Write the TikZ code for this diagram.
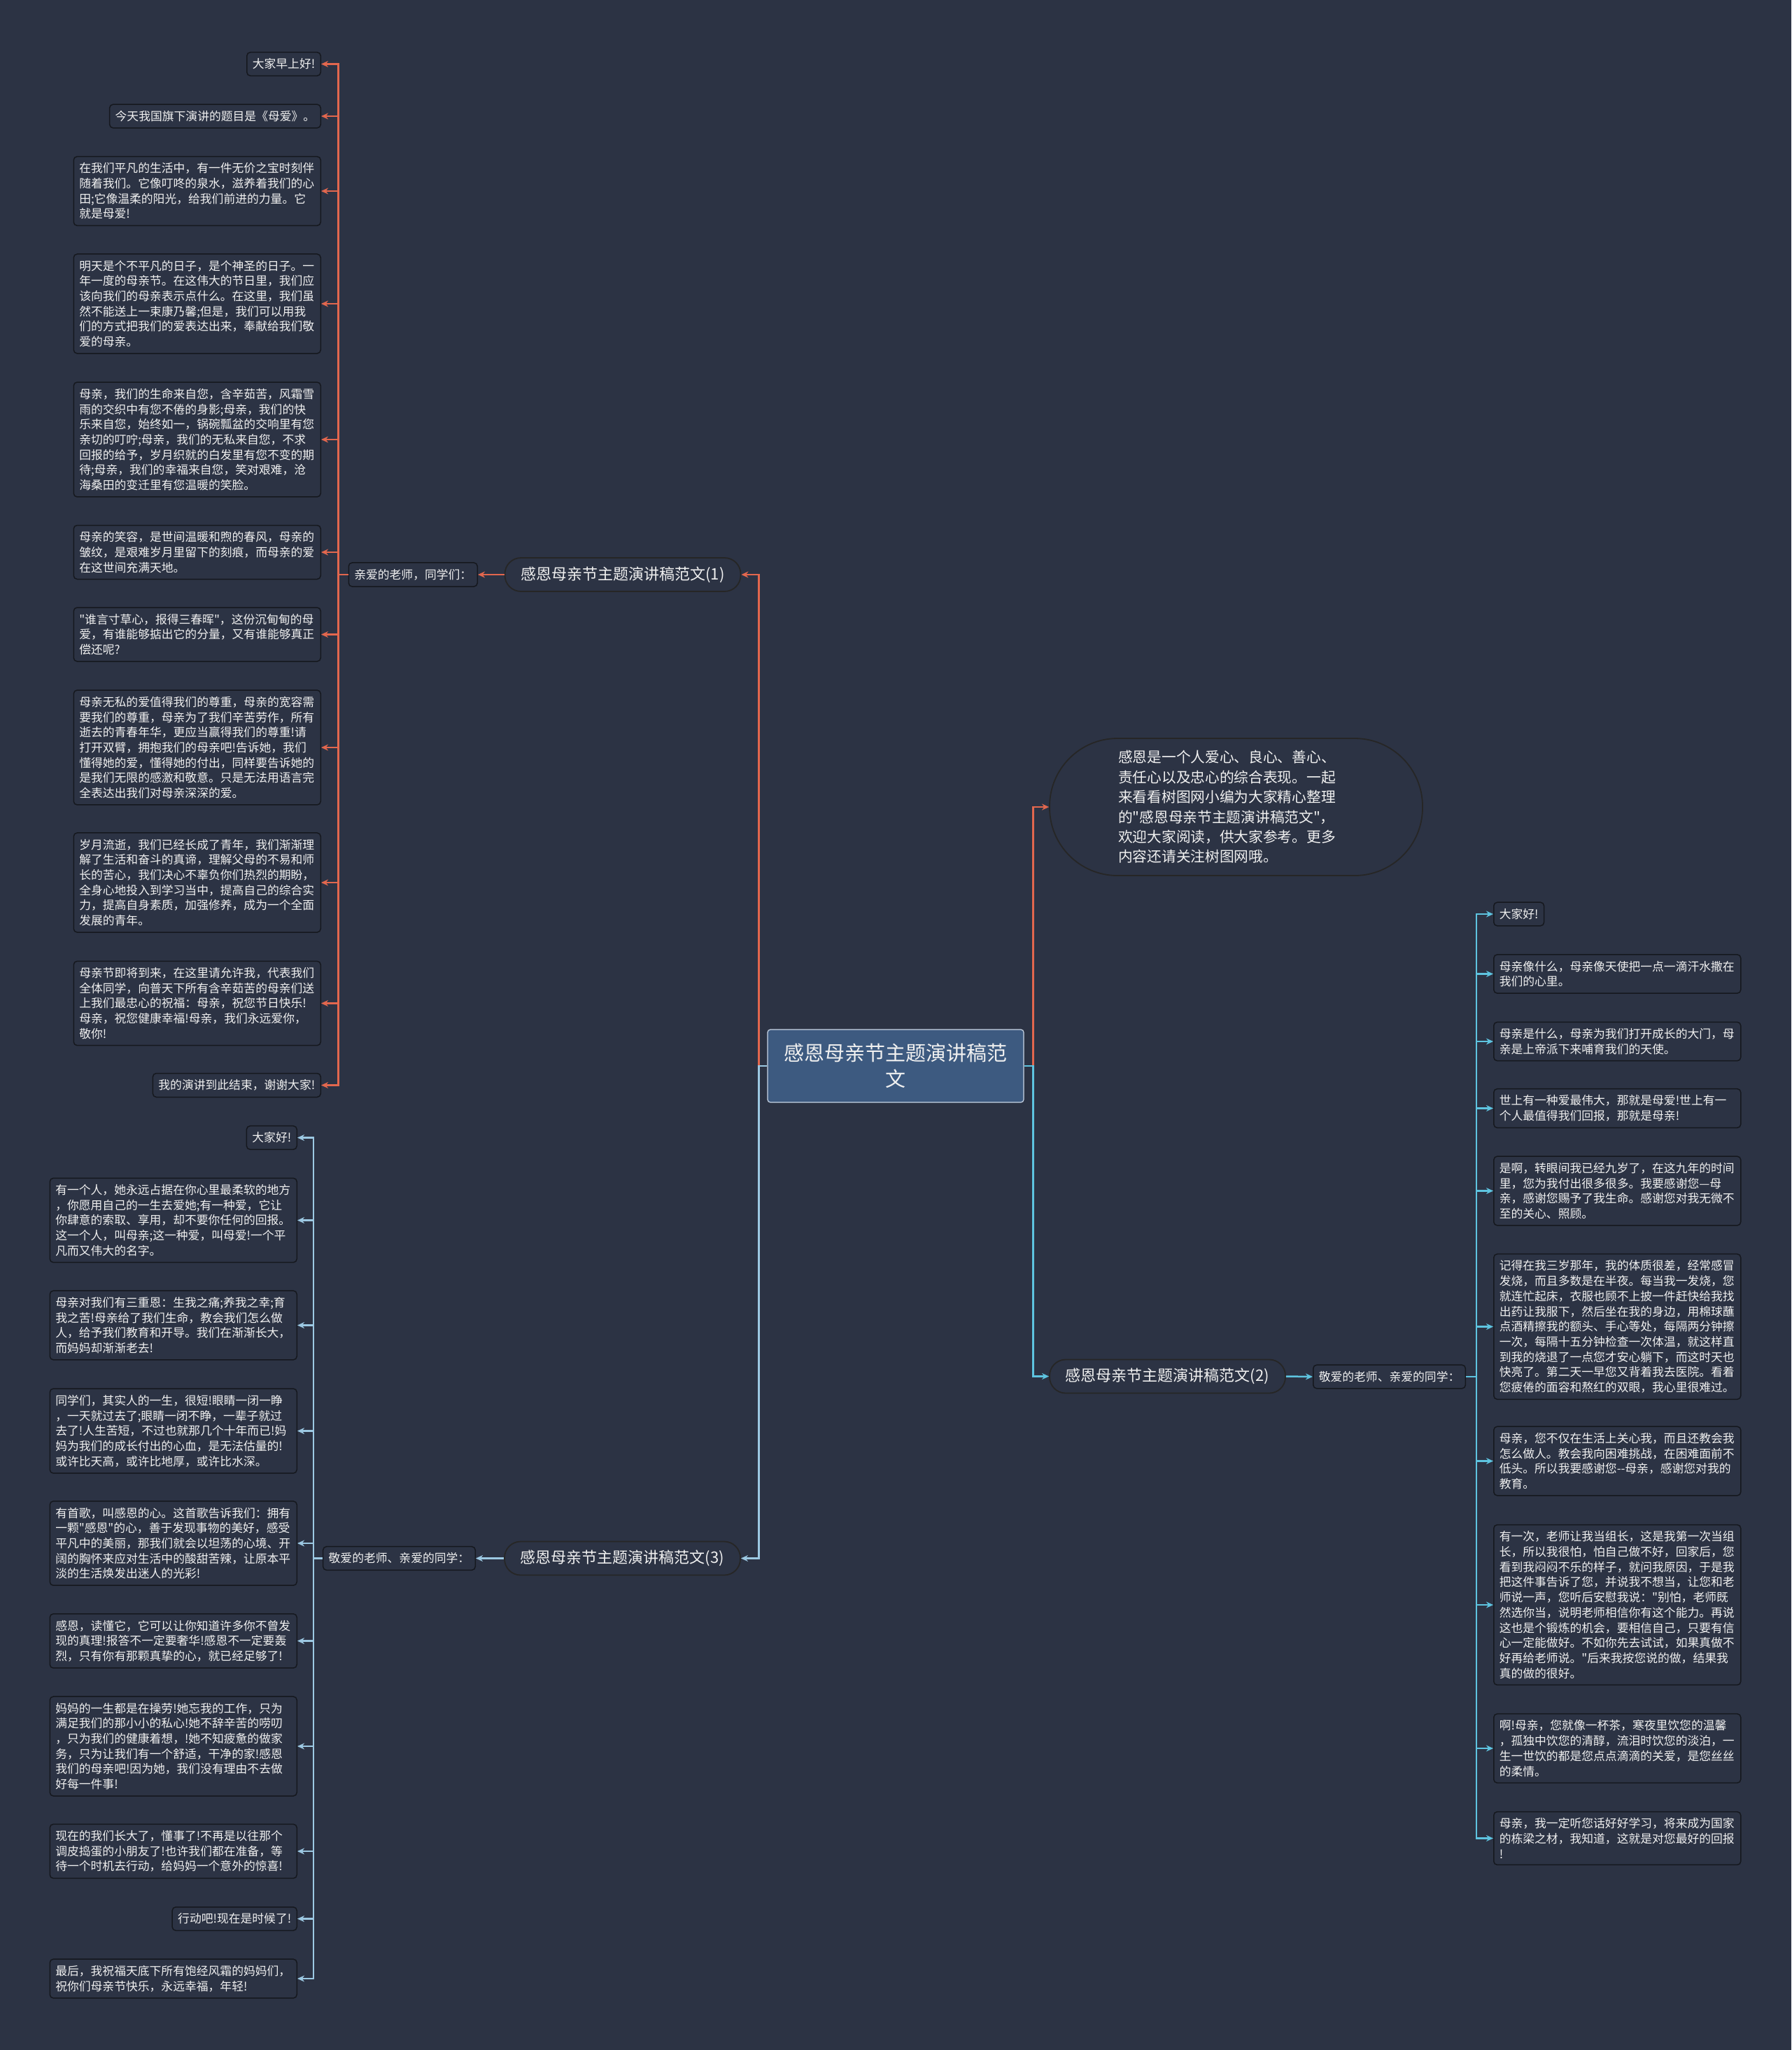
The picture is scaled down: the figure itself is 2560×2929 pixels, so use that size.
\documentclass[tikz,border=0pt]{standalone}
\usepackage{fontspec}
\setmainfont{Noto Sans CJK SC}
\usetikzlibrary{arrows.meta}
\font\leaffnt="Noto Sans CJK SC" at 16.8pt
\font\intrfnt="Noto Sans CJK SC" at 20.7pt
\font\brfnt="Noto Sans CJK SC" at 22pt
\font\mainfnt="Noto Sans CJK SC" at 29pt
\definecolor{bgc}{HTML}{2C3344}
\definecolor{boxfill}{HTML}{2C3344}
\definecolor{boxline}{HTML}{15181E}
\definecolor{txtc}{HTML}{F0F0F0}
\definecolor{orangec}{HTML}{E2674E}
\definecolor{bluer}{HTML}{5EC4E0}
\definecolor{bluel}{HTML}{9CC8E2}
\definecolor{mainfill}{HTML}{3D5A80}
\definecolor{mainline}{HTML}{C9D6E6}
\begin{document}
\begin{tikzpicture}[x=1pt,y=-1pt,
 leaf/.style={draw=boxline, fill=boxfill, rounded corners=5pt, text=txtc, font={\leaffnt\baselineskip=21.7pt}, inner xsep=8pt, inner ysep=9pt, line width=1.5pt},
 wide/.style={leaf, text width=337pt, align=left},
 branch/.style={draw=black!85, fill=boxfill, rounded corners=23pt, text=txtc, font=\brfnt, minimum width=337pt, minimum height=48pt, line width=1.8pt, inner sep=0pt},
 conn/.style={line width=2.5pt, -{Stealth[length=10pt,width=9pt]}},
]
\useasboundingbox (0,0) rectangle (2560,2929);
\fill[bgc] (0,0) rectangle (2560,2929);

% main
\node[fill=mainfill, draw=mainline, line width=1.2pt, rounded corners=4pt, minimum width=366pt, minimum height=104pt, align=center, text=txtc, font={\mainfnt\baselineskip=37pt}] (main) at (1280,1523) {感恩母亲节主题演讲稿范\\文};

% intro
\node[draw=black!85, fill=boxfill, line width=1.8pt, rounded corners=97pt, minimum width=533pt, minimum height=196pt] (intro) at (1766.5,1153) {};
\node[anchor=west, inner sep=0pt, text width=313pt, align=left, text=txtc, font={\intrfnt\baselineskip=28.4pt}] (introtxt) at (1598,1153) {感恩是一个人爱心、良心、善心、\\责任心以及忠心的综合表现。一起\\来看看树图网小编为大家精心整理\\的"感恩母亲节主题演讲稿范文"，\\欢迎大家阅读，供大家参考。更多\\内容还请关注树图网哦。};

% branches
\node[branch] (b1) at (890,821) {感恩母亲节主题演讲稿范文(1)};
\node[branch] (b2) at (1668.5,1966.5) {感恩母亲节主题演讲稿范文(2)};
\node[branch] (b3) at (889.5,2226.5) {感恩母亲节主题演讲稿范文(3)};

\node[leaf, anchor=east] (lab1) at (683,821) {亲爱的老师，同学们：};
\node[leaf, anchor=west] (lab2) at (1876,1967) {敬爱的老师、亲爱的同学：};
\node[leaf, anchor=east] (lab3) at (680,2226.5) {敬爱的老师、亲爱的同学：};

% branch 1 leaves
\node[leaf, anchor=east] (L1) at (459,91.5) {大家早上好!};
\node[leaf, anchor=east] (L2) at (459,166) {今天我国旗下演讲的题目是《母爱》。};
\node[wide, anchor=east] (L3) at (459,273) {在我们平凡的生活中，有一件无价之宝时刻伴\\随着我们。它像叮咚的泉水，滋养着我们的心\\田;它像温柔的阳光，给我们前进的力量。它\\就是母爱!};
\node[wide, anchor=east] (L4) at (459,434) {明天是个不平凡的日子，是个神圣的日子。一\\年一度的母亲节。在这伟大的节日里，我们应\\该向我们的母亲表示点什么。在这里，我们虽\\然不能送上一束康乃馨;但是，我们可以用我\\们的方式把我们的爱表达出来，奉献给我们敬\\爱的母亲。};
\node[wide, anchor=east] (L5) at (459,628) {母亲，我们的生命来自您，含辛茹苦，风霜雪\\雨的交织中有您不倦的身影;母亲，我们的快\\乐来自您，始终如一，锅碗瓢盆的交响里有您\\亲切的叮咛;母亲，我们的无私来自您，不求\\回报的给予，岁月织就的白发里有您不变的期\\待;母亲，我们的幸福来自您，笑对艰难，沧\\海桑田的变迁里有您温暖的笑脸。};
\node[wide, anchor=east] (L6) at (459,789) {母亲的笑容，是世间温暖和煦的春风，母亲的\\皱纹，是艰难岁月里留下的刻痕，而母亲的爱\\在这世间充满天地。};
\node[wide, anchor=east] (L7) at (459,906.5) {"谁言寸草心，报得三春晖"，这份沉甸甸的母\\爱，有谁能够掂出它的分量，又有谁能够真正\\偿还呢?};
\node[wide, anchor=east] (L8) at (459,1068) {母亲无私的爱值得我们的尊重，母亲的宽容需\\要我们的尊重，母亲为了我们辛苦劳作，所有\\逝去的青春年华，更应当赢得我们的尊重!请\\打开双臂，拥抱我们的母亲吧!告诉她，我们\\懂得她的爱，懂得她的付出，同样要告诉她的\\是我们无限的感激和敬意。只是无法用语言完\\全表达出我们对母亲深深的爱。};
\node[wide, anchor=east] (L9) at (459,1261) {岁月流逝，我们已经长成了青年，我们渐渐理\\解了生活和奋斗的真谛，理解父母的不易和师\\长的苦心，我们决心不辜负你们热烈的期盼，\\全身心地投入到学习当中，提高自己的综合实\\力，提高自身素质，加强修养，成为一个全面\\发展的青年。};
\node[wide, anchor=east] (L10) at (459,1433.5) {母亲节即将到来，在这里请允许我，代表我们\\全体同学，向普天下所有含辛茹苦的母亲们送\\上我们最忠心的祝福：母亲，祝您节日快乐!\\母亲，祝您健康幸福!母亲，我们永远爱你，\\敬你!};
\node[leaf, anchor=east] (L11) at (459,1550.5) {我的演讲到此结束，谢谢大家!};

% branch 3 leaves
\node[leaf, anchor=east] (B1) at (425,1625.5) {大家好!};
\node[wide, anchor=east] (B2) at (425,1743.5) {有一个人，她永远占据在你心里最柔软的地方\\，你愿用自己的一生去爱她;有一种爱，它让\\你肆意的索取、享用，却不要你任何的回报。\\这一个人，叫母亲;这一种爱，叫母爱!一个平\\凡而又伟大的名字。};
\node[wide, anchor=east] (B3) at (425,1893.5) {母亲对我们有三重恩：生我之痛;养我之幸;育\\我之苦!母亲给了我们生命，教会我们怎么做\\人，给予我们教育和开导。我们在渐渐长大，\\而妈妈却渐渐老去!};
\node[wide, anchor=east] (B4) at (425,2044.5) {同学们，其实人的一生，很短!眼睛一闭一睁\\，一天就过去了;眼睛一闭不睁，一辈子就过\\去了!人生苦短，不过也就那几个十年而已!妈\\妈为我们的成长付出的心血，是无法估量的!\\或许比天高，或许比地厚，或许比水深。};
\node[wide, anchor=east] (B5) at (425,2205) {有首歌，叫感恩的心。这首歌告诉我们：拥有\\一颗"感恩"的心，善于发现事物的美好，感受\\平凡中的美丽，那我们就会以坦荡的心境、开\\阔的胸怀来应对生活中的酸甜苦辣，让原本平\\淡的生活焕发出迷人的光彩!};
\node[wide, anchor=east] (B6) at (425,2344.5) {感恩，读懂它，它可以让你知道许多你不曾发\\现的真理!报答不一定要奢华!感恩不一定要轰\\烈，只有你有那颗真挚的心，就已经足够了!};
\node[wide, anchor=east] (B7) at (425,2495) {妈妈的一生都是在操劳!她忘我的工作，只为\\满足我们的那小小的私心!她不辞辛苦的唠叨\\，只为我们的健康着想，!她不知疲惫的做家\\务，只为让我们有一个舒适，干净的家!感恩\\我们的母亲吧!因为她，我们没有理由不去做\\好每一件事!};
\node[wide, anchor=east] (B8) at (425,2645) {现在的我们长大了，懂事了!不再是以往那个\\调皮捣蛋的小朋友了!也许我们都在准备，等\\待一个时机去行动，给妈妈一个意外的惊喜!};
\node[leaf, anchor=east] (B9) at (425,2741.5) {行动吧!现在是时候了!};
\node[wide, anchor=east] (B10) at (425,2827) {最后，我祝福天底下所有饱经风霜的妈妈们，\\祝你们母亲节快乐，永远幸福，年轻!};

% branch 2 leaves
\node[leaf, anchor=west] (R1) at (2134,1306) {大家好!};
\node[wide, anchor=west] (R2) at (2134,1391.5) {母亲像什么，母亲像天使把一点一滴汗水撒在\\我们的心里。};
\node[wide, anchor=west] (R3) at (2134,1488) {母亲是什么，母亲为我们打开成长的大门，母\\亲是上帝派下来哺育我们的天使。};
\node[wide, anchor=west] (R4) at (2134,1583.5) {世上有一种爱最伟大，那就是母爱!世上有一\\个人最值得我们回报，那就是母亲!};
\node[wide, anchor=west] (R5) at (2134,1701.5) {是啊，转眼间我已经九岁了，在这九年的时间\\里，您为我付出很多很多。我要感谢您—母\\亲，感谢您赐予了我生命。感谢您对我无微不\\至的关心、照顾。};
\node[wide, anchor=west] (R6) at (2134,1895.5) {记得在我三岁那年，我的体质很差，经常感冒\\发烧，而且多数是在半夜。每当我一发烧，您\\就连忙起床，衣服也顾不上披一件赶快给我找\\出药让我服下，然后坐在我的身边，用棉球蘸\\点酒精擦我的额头、手心等处，每隔两分钟擦\\一次，每隔十五分钟检查一次体温，就这样直\\到我的烧退了一点您才安心躺下，而这时天也\\快亮了。第二天一早您又背着我去医院。看着\\您疲倦的面容和熬红的双眼，我心里很难过。};
\node[wide, anchor=west] (R7) at (2134,2087.5) {母亲，您不仅在生活上关心我，而且还教会我\\怎么做人。教会我向困难挑战，在困难面前不\\低头。所以我要感谢您--母亲，感谢您对我的\\教育。};
\node[wide, anchor=west] (R8) at (2134,2293) {有一次，老师让我当组长，这是我第一次当组\\长，所以我很怕，怕自己做不好，回家后，您\\看到我闷闷不乐的样子，就问我原因，于是我\\把这件事告诉了您，并说我不想当，让您和老\\师说一声，您听后安慰我说："别怕，老师既\\然选你当，说明老师相信你有这个能力。再说\\这也是个锻炼的机会，要相信自己，只要有信\\心一定能做好。不如你先去试试，如果真做不\\好再给老师说。"后来我按您说的做，结果我\\真的做的很好。};
\node[wide, anchor=west] (R9) at (2134,2498) {啊!母亲，您就像一杯茶，寒夜里饮您的温馨\\，孤独中饮您的清醇，流泪时饮您的淡泊，一\\生一世饮的都是您点点滴滴的关爱，是您丝丝\\的柔情。};
\node[wide, anchor=west] (R10) at (2134,2626.5) {母亲，我一定听您话好好学习，将来成为国家\\的栋梁之材，我知道，这就是对您最好的回报\\!};

% connectors from main
\draw[conn, orangec] (main.west) -- ++(-12,0) |- (b1.east);
\draw[conn, bluel] (main.west) -- ++(-12,0) |- (b3.east);
\draw[conn, orangec] (main.east) -- ++(13,0) |- (intro.west);
\draw[conn, bluer] (main.east) -- ++(13,0) |- (b2.west);

% branch to label
\draw[conn, orangec] (b1.west) -- (lab1.east);
\draw[conn, bluer] (b2.east) -- (lab2.west);
\draw[conn, bluel] (b3.west) -- (lab3.east);

% label to leaves
\foreach \n in {L1,L2,L3,L4,L5,L6,L7,L8,L9,L10,L11}
  \draw[conn, orangec] (lab1.west) -- ++(-14,0) |- (\n.east);
\foreach \n in {B1,B2,B3,B4,B5,B6,B7,B8,B9,B10}
  \draw[conn, bluel] (lab3.west) -- ++(-13,0) |- (\n.east);
\foreach \n in {R1,R2,R3,R4,R5,R6,R7,R8,R9,R10}
  \draw[conn, bluer] (lab2.east) -- ++(15,0) |- (\n.west);
\end{tikzpicture}
\end{document}
